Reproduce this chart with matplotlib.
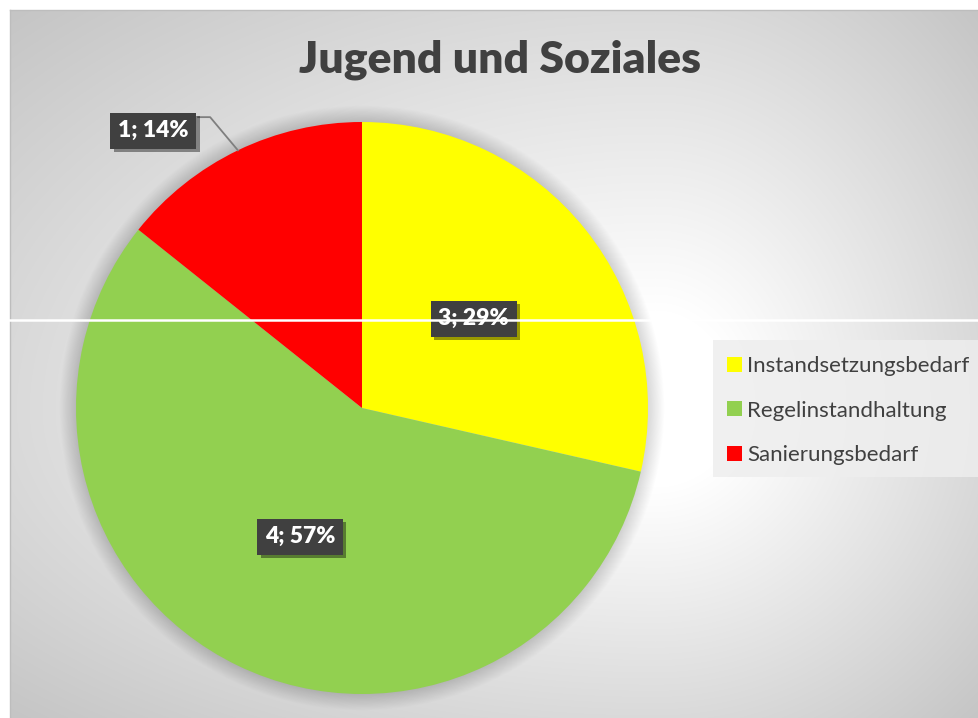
import numpy as np
import matplotlib
matplotlib.use("Agg")
import matplotlib.pyplot as plt
import matplotlib.patheffects as pe
from matplotlib.patches import Patch, Rectangle, Circle
from matplotlib.lines import Line2D

# data
categories = ["Instandsetzungsbedarf", "Regelinstandhaltung", "Sanierungsbedarf"]
pie_values = [2, 4, 1]          # wedge sizes as drawn
label_counts = [3, 4, 1]        # counts printed in the data labels
colors = ["#FFFF00", "#92D050", "#FF0000"]
title = "Jugend und Soziales"

W, H = 979, 718
plt.rcParams["font.family"] = ["Lato", "DejaVu Sans"]

fig = plt.figure(figsize=(W / 100, H / 100), dpi=100, facecolor="white")


def fx(px):
    return px / W


def fy(py):
    return 1 - py / H


# ---- grey path gradient behind the chart area (white core right of the pie)
x0, y0 = 10, 10
bg = fig.add_axes([fx(x0), 0, fx(W - x0), (H - y0) / H])
xs, ys = np.meshgrid(np.arange(x0, W), np.arange(y0, H))
gx, gy = 655, 410
nx = np.where(xs < gx, (xs - gx) / (gx - x0), (xs - gx) / (W - gx))
ny = np.where(ys < gy, (ys - gy) / (gy - y0), (ys - gy) / (H - gy))
norm = np.hypot(nx, ny)
drop = 50 * np.clip(norm - 0.25, 0, None)
g = np.clip(255 - drop, 0, 255) / 255
bg.imshow(np.dstack([g, g, g]), extent=(x0, W, H, y0), aspect="auto", interpolation="bilinear")
bg.set_axis_off()
fig.add_artist(Line2D([fx(x0), fx(x0)], [0, fy(y0)], transform=fig.transFigure, color="#bdbdbd", lw=1))
fig.add_artist(Line2D([fx(x0), 1], [fy(y0), fy(y0)], transform=fig.transFigure, color="#bdbdbd", lw=1))

# ---- pie
cx, cy, R = 362, 408, 286
ax = fig.add_axes([fx(cx - R), (H - cy - R) / H, 2 * R / W, 2 * R / H])
for k in range(20):
    ax.add_patch(Circle((0, 0), 1.0 + k * 0.003, color="black", alpha=0.007, lw=0,
                        zorder=0, clip_on=False))
wedges, _ = ax.pie(pie_values, colors=colors, startangle=90, counterclock=False,
                   radius=1, wedgeprops=dict(linewidth=0))
ax.set_xlim(-1, 1)
ax.set_ylim(-1, 1)
ax.set_aspect("equal")

total = sum(pie_values)
box_effect = [pe.withSimplePatchShadow(offset=(2.5, -2.5), shadow_rgbFace="black", alpha=0.4)]
for i, w in enumerate(wedges):
    mid = np.radians((w.theta1 + w.theta2) / 2)
    txt = f"{label_counts[i]}; {round(100 * pie_values[i] / total)}%"
    if i == 2:
        # label pulled out with a leader line
        lx, ly = -0.73, 0.97
        ex, ey = np.cos(mid), np.sin(mid)
        ax.plot([-0.573, -0.531, ex], [1.017, 1.017, ey], color="#7f7f7f", lw=1.3,
                clip_on=False, zorder=3)
    else:
        lx, ly = 0.5 * np.cos(mid), 0.5 * np.sin(mid)
    t = ax.text(lx, ly, txt, ha="center", va="center", color="white", fontsize=16.5,
                fontweight="heavy", zorder=5,
                bbox=dict(boxstyle="square,pad=0.33", fc="#404040", ec="none", lw=0))
    t.get_bbox_patch().set_path_effects(box_effect)

# ---- title
fig.text(fx(500), fy(60), title, ha="center", va="center", fontsize=32,
         fontweight="heavy", color="#404040")

# ---- legend
fig.add_artist(Rectangle((fx(713), fy(477)), fx(W - 713), 137 / H, transform=fig.transFigure,
                         fc="#eeeeee", ec="none", alpha=0.85))
handles = [Patch(fc=c, ec="none") for c in colors]
fig.legend(handles, categories, loc="upper left", bbox_to_anchor=(fx(716), fy(345)),
           frameon=False, fontsize=16, handlelength=0.65, handleheight=0.65,
           handletextpad=0.25, labelspacing=1.1, labelcolor="#404040", borderpad=0)

# stray white line across the picture
fig.add_artist(Line2D([0, 1], [fy(320), fy(320)], transform=fig.transFigure,
                      color="white", lw=1.8, zorder=100))

fig.savefig("out.png", dpi=100)
